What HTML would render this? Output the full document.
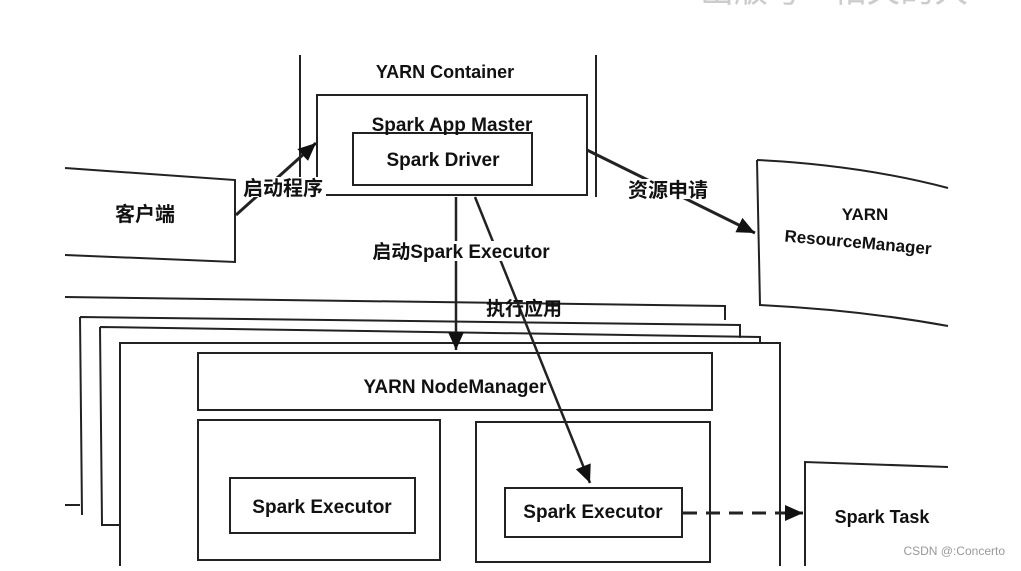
<!DOCTYPE html>
<html><head><meta charset="utf-8"><style>
html,body{margin:0;padding:0;background:#fff;}
svg text{font-family:"Liberation Sans","Noto Sans CJK SC",sans-serif;fill:#111;font-weight:600;}
</style></head><body>
<svg width="1021" height="566" viewBox="0 0 1021 566" xmlns="http://www.w3.org/2000/svg">
<defs><marker id="b" markerWidth="20" markerHeight="20" refX="18" refY="8" orient="auto" markerUnits="userSpaceOnUse"><path d="M0,0 L18,8 L0,16 z" fill="#111"/></marker></defs>
<rect width="1021" height="566" fill="#fff"/>
<text x="700" y="2" font-size="34" style="fill:#ccc;font-weight:400">出版号 · 相关的大</text>
<g stroke="#222" stroke-width="2" fill="none">
<line x1="300" y1="55" x2="300" y2="195"/>
<line x1="596" y1="55" x2="596" y2="197"/>
<rect x="317" y="95" width="270" height="100" fill="#fff"/>
<rect x="353" y="133" width="179" height="52" fill="#fff"/>
<path d="M65,168 L235,180 L235,262 L65,255"/>
<path d="M757,160 Q860,165 948,188 M757,160 L760,305 Q860,310 948,326"/>
<path d="M65,297 L725,306 L725,320 M80,317 L740,325 L740,338 M100,327 L760,337 L760,345 M65,505 L80,505 M80,317 L82,515 M100,327 L102,525 L120,525"/>
<rect x="120" y="343" width="660" height="225" fill="#fff"/>
<rect x="198" y="353" width="514" height="57"/>
<rect x="198" y="420" width="242" height="140"/>
<rect x="476" y="422" width="234" height="140"/>
<rect x="230" y="478" width="185" height="55" fill="#fff"/>
<rect x="505" y="488" width="177" height="49" fill="#fff"/>
<path d="M948,467 L805,462 L805,570" fill="#fff"/>
<line x1="236" y1="215" x2="316" y2="143" stroke-width="3" marker-end="url(#b)"/>
<line x1="587" y1="150" x2="755" y2="233" stroke-width="3" marker-end="url(#b)"/>
<line x1="456" y1="197" x2="456" y2="350" stroke-width="2.5" marker-end="url(#b)"/>
<line x1="475" y1="197" x2="590" y2="483" stroke-width="2.5" marker-end="url(#b)"/>
<line x1="683" y1="513" x2="803" y2="513" stroke-width="3" stroke-dasharray="14,9" marker-end="url(#b)"/>
</g>
<rect x="240" y="177" width="86" height="20" fill="#fff"/>
<rect x="620" y="179" width="96" height="20" fill="#fff"/>
<rect x="362" y="241" width="196" height="20" fill="#fff"/>
<text x="445" y="78" font-size="18" text-anchor="middle">YARN Container</text>
<text x="452" y="131" font-size="19" text-anchor="middle">Spark App Master</text>
<text x="443" y="166" font-size="19" text-anchor="middle">Spark Driver</text>
<text x="145" y="221" font-size="20" text-anchor="middle">客户端</text>
<text x="283" y="195" font-size="20" text-anchor="middle">启动程序</text>
<text x="668" y="197" font-size="20" text-anchor="middle">资源申请</text>
<text x="865" y="220" font-size="17" text-anchor="middle">YARN</text>
<text x="858" y="248" font-size="17" text-anchor="middle" transform="rotate(5 858 243)">ResourceManager</text>
<text x="461" y="258" font-size="19" text-anchor="middle">启动Spark Executor</text>
<text x="524" y="315" font-size="19" text-anchor="middle">执行应用</text>
<text x="455" y="393" font-size="19" text-anchor="middle">YARN NodeManager</text>
<text x="322" y="513" font-size="19" text-anchor="middle">Spark Executor</text>
<text x="593" y="518" font-size="19" text-anchor="middle">Spark Executor</text>
<text x="882" y="523" font-size="18" text-anchor="middle">Spark Task</text>
<text x="1005" y="555" font-size="12" text-anchor="end" style="fill:#999;font-weight:400">CSDN @:Concerto</text>
</svg>
</body></html>
